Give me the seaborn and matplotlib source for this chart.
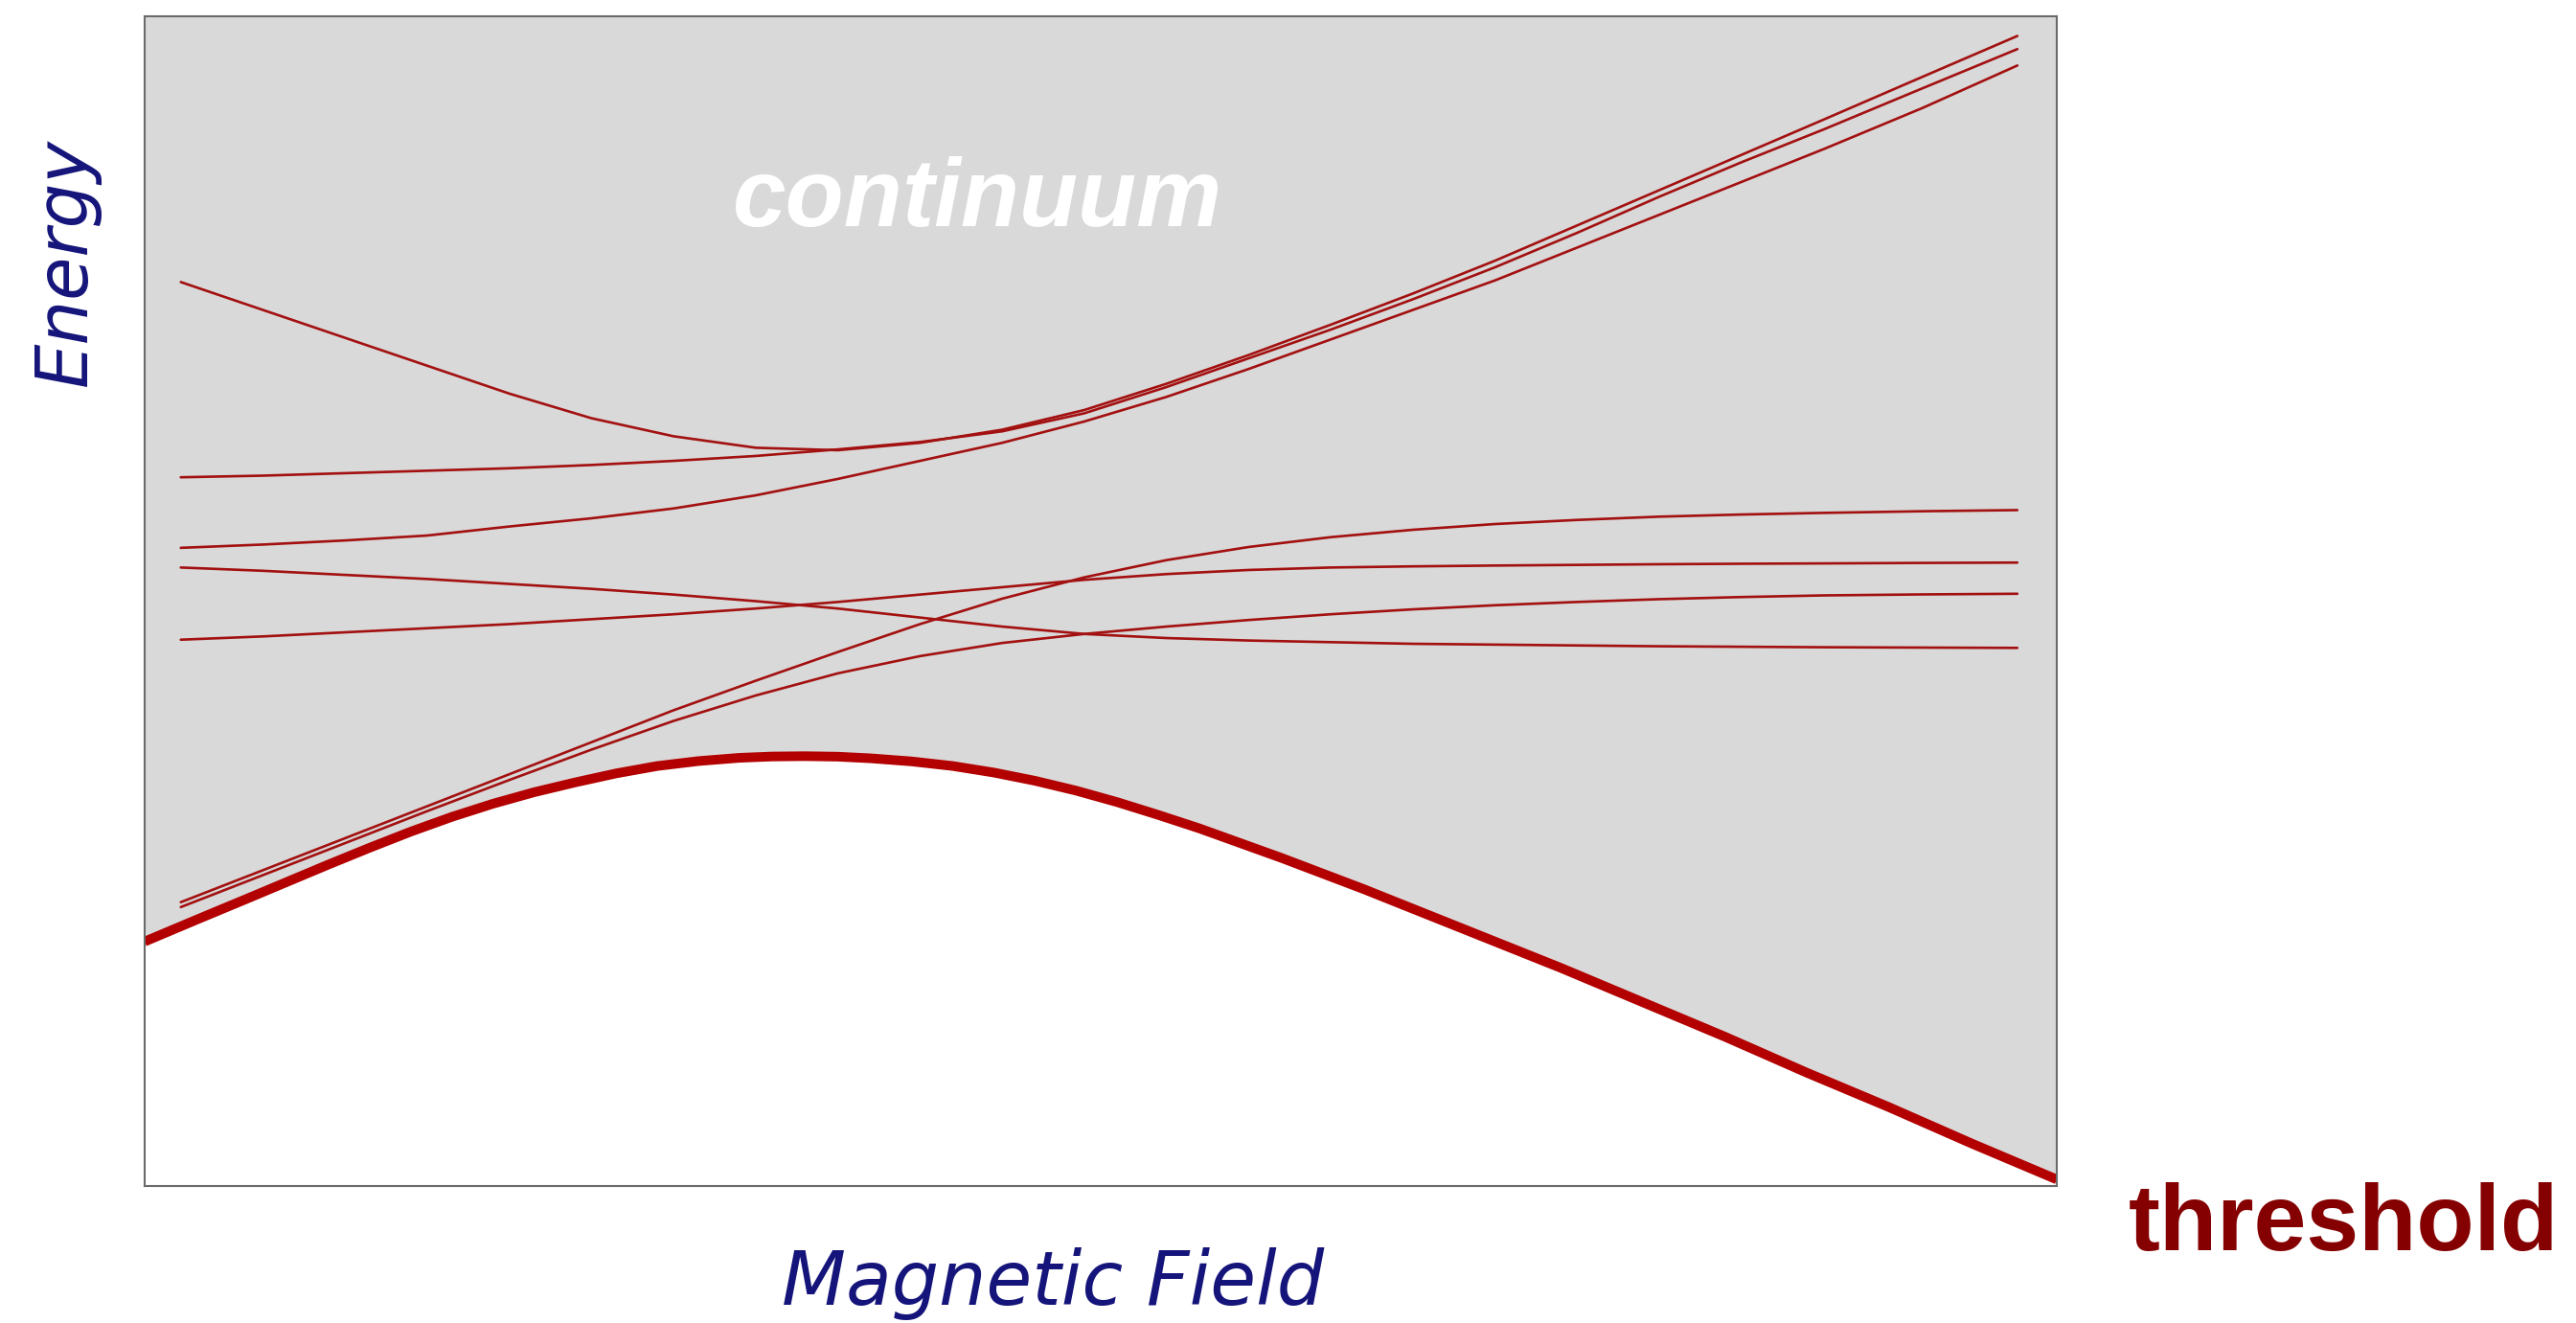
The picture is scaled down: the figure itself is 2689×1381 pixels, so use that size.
import numpy as np
import pandas as pd
import matplotlib
matplotlib.use("Agg")
import matplotlib.pyplot as plt
import seaborn as sns

# ---- data (field / energy in arbitrary units) ----
field_grid = [22, 72, 122, 172, 222, 272, 322, 372, 422, 472, 522, 572,
              622, 672, 722, 772, 822, 872, 922, 972, 1022, 1082, 1140]

level_a = [551, 534, 517, 500, 483, 468, 457, 450, 448.5, 453, 461, 473,
           489, 506.5, 525, 544, 564, 585.5, 607, 628.5, 650, 676, 701]
level_b = [432, 433, 434.5, 436, 437.5, 439.5, 442, 445, 449, 453.5, 460, 471,
           487, 504.5, 522, 540.5, 560, 581, 603, 624, 644, 669, 693]
level_c = [389, 391, 393.5, 396.5, 402, 407, 413, 421, 431, 442, 453, 466,
           481, 498, 516, 534, 552, 572, 592, 612, 632, 657, 683]
level_d = [377, 375, 372.5, 370, 367, 364, 360.5, 356.5, 352, 346.5, 341, 336.5,
           334, 332.5, 331.5, 330.5, 330, 329.5, 329, 328.7, 328.4, 328.2, 328]
level_e = [333, 335, 337.5, 340, 342.5, 345.5, 348.5, 352, 356, 360.5, 365, 369.5,
           373, 375.5, 377, 377.7, 378.2, 378.6, 379, 379.3, 379.5, 379.8, 380]
level_f = [173, 192.5, 212, 231.5, 251, 270.5, 290, 308, 325.5, 342.5, 358, 371,
           381.5, 389.5, 395.5, 400, 403.5, 406, 408, 409.3, 410.3, 411.3, 412]
level_g = [170, 189.5, 209, 228.5, 247.5, 266, 283.5, 299, 312.5, 323, 331, 336.5,
           341, 345, 348.5, 351.5, 354, 356, 357.7, 359, 360, 360.6, 361]

threshold_field = [0, 32, 62, 87, 112, 137, 162, 187, 212, 237, 262, 287, 312, 337,
                   362, 382, 402, 422, 442, 467, 492, 517, 542, 567, 592, 617, 642,
                   667, 692, 717, 742, 767, 792, 827, 862, 912, 962, 1012, 1062,
                   1112, 1164]
threshold_energy = [149, 162.5, 175, 185.5, 196, 206.2, 216, 225, 233, 240, 246, 251.5,
                    256, 259, 261, 261.8, 262, 261.7, 260.7, 258.8, 256, 252, 247,
                    241, 234, 226.2, 218, 209, 200, 190.5, 181, 171, 161, 147, 133,
                    112, 91, 69, 48, 26, 4]

levels = {"A": level_a, "B": level_b, "C": level_c, "D": level_d,
          "E": level_e, "F": level_f, "G": level_g}

rows = []
for name, vals in levels.items():
    for xv, yv in zip(field_grid, vals):
        rows.append({"curve": name, "field": xv, "energy": yv})
df_levels = pd.DataFrame(rows)
df_thr = pd.DataFrame({"field": threshold_field, "energy": threshold_energy})

# ---- styling ----
sns.set_theme(style="white")
W, H = 2689, 1381
fig = plt.figure(figsize=(W / 100, H / 100), dpi=100)
ax = fig.add_axes([151 / W, 1 - 1238 / H, (2147 - 151) / W, (1238 - 17) / H])

gray = "#d9d9d9"
ax.set_facecolor(gray)
ax.fill_between(df_thr["field"], 0, df_thr["energy"], color="white", lw=0, zorder=1)

sns.lineplot(data=df_levels, x="field", y="energy", units="curve", estimator=None,
             sort=False, color="#a31010", lw=1.9, ax=ax, zorder=3,
             solid_joinstyle="round")
sns.lineplot(data=df_thr, x="field", y="energy", estimator=None, sort=False,
             color="#b30000", lw=7.2, ax=ax, zorder=4, solid_capstyle="butt",
             solid_joinstyle="round")

ax.set_xlim(0, 1164)
ax.set_ylim(0, 713)
ax.set_xticks([])
ax.set_yticks([])
ax.set_xlabel("")
ax.set_ylabel("")
for s in ax.spines.values():
    s.set_visible(True)
    s.set_color("#6a6a6a")
    s.set_linewidth(1.5)
    s.set_zorder(5)

ax.text(507, 585, "continuum", ha="center", va="baseline", color="white",
        fontsize=72, fontweight="bold", fontstyle="italic",
        family="Liberation Sans", zorder=6)

navy = "#14147a"
fig.text(0.0257, 0.801, "Energy", rotation=90, ha="center", va="center",
         color=navy, fontsize=53, fontstyle="italic", family="DejaVu Sans")
fig.text(0.4087, 0.014, "Magnetic Field", ha="center", va="baseline",
         color=navy, fontsize=56, fontstyle="italic", family="DejaVu Sans")
fig.text(0.8263, 0.055, "threshold", ha="left", va="baseline",
         color="#850000", fontsize=71, fontweight="bold", family="Liberation Sans")

fig.savefig("out.png", dpi=100)
